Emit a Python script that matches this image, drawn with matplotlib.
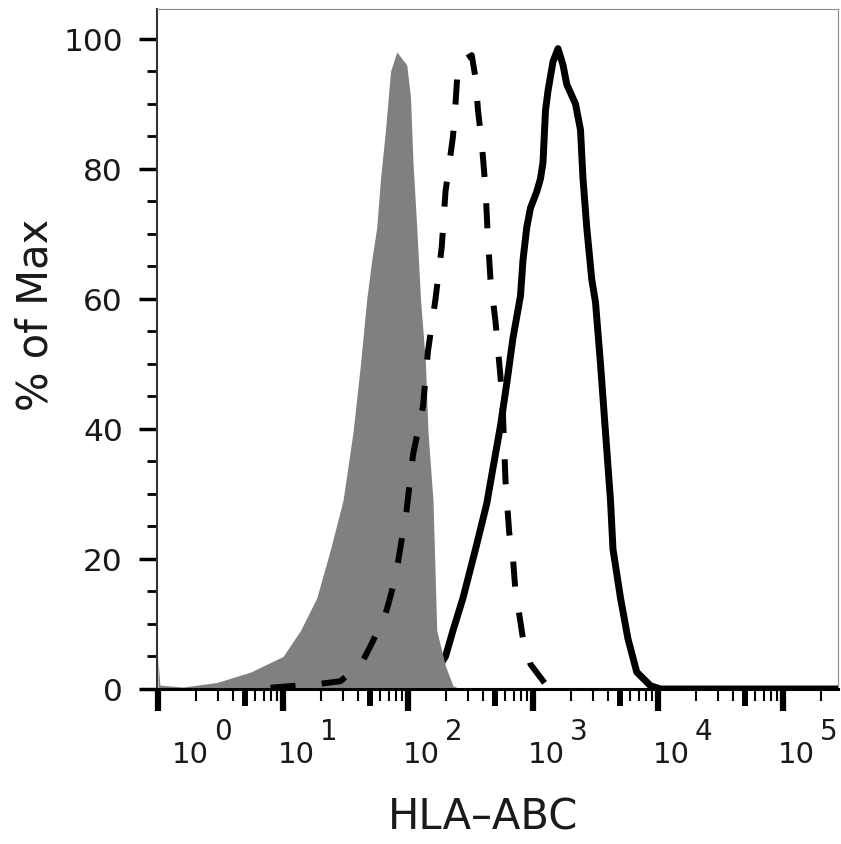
import matplotlib
matplotlib.use("Agg")
import numpy as np
import matplotlib.pyplot as plt
import matplotlib.transforms as mtransforms
from matplotlib.ticker import FixedLocator, NullFormatter, MultipleLocator

# isotype control (filled grey), x as log10(intensity), y as % of max
iso_log = [0.0, 0.015, 0.2, 0.47, 0.74, 1.0, 1.14, 1.27, 1.38, 1.48, 1.56, 1.62, 1.67,
           1.71, 1.75, 1.78, 1.82, 1.86, 1.91, 1.99, 2.02, 2.04, 2.07, 2.10, 2.14,
           2.16, 2.20, 2.23, 2.30, 2.36, 2.42]
iso_pct = [4.6, 0.6, 0.3, 1.0, 2.6, 5.0, 9.0, 14.0, 21.5, 29.0, 39.5, 50.0, 60.0,
           66.0, 71.0, 78.5, 86.0, 95.0, 98.0, 96.0, 91.0, 81.0, 71.0, 60.0, 50.0,
           39.5, 29.0, 9.0, 3.5, 0.5, 0.0]

# dashed histogram
dash_log = [0.9, 1.30, 1.46, 1.63, 1.71, 1.82, 1.87, 1.92, 1.95, 1.99, 2.04, 2.12,
            2.16, 2.22, 2.27, 2.30, 2.36, 2.38, 2.40, 2.47, 2.51, 2.54, 2.56, 2.59,
            2.62, 2.64, 2.66, 2.70, 2.74, 2.76, 2.78, 2.81, 2.84, 2.86, 2.89, 2.92,
            2.98, 3.11, 3.27]
dash_pct = [0.2, 0.8, 1.2, 4.0, 7.0, 11.5, 15.0, 19.5, 23.0, 27.7, 36.0, 43.5,
            52.0, 60.0, 68.0, 76.5, 85.0, 90.0, 96.0, 97.0, 97.5, 94.0, 89.0, 84.0,
            77.0, 69.0, 63.0, 56.5, 48.0, 42.0, 32.0, 24.0, 20.0, 15.0, 11.5, 7.7,
            3.8, 0.5, 0.0]

# HLA-ABC stained (solid black)
hla_log = [1.94, 2.18, 2.30, 2.36, 2.44, 2.54, 2.63, 2.68, 2.74, 2.79, 2.84, 2.90,
           2.92, 2.95, 2.98, 3.03, 3.06, 3.08, 3.10, 3.12, 3.16, 3.20, 3.24, 3.27,
           3.34, 3.38, 3.40, 3.43, 3.47, 3.50, 3.54, 3.58, 3.62, 3.64, 3.70, 3.76,
           3.83, 3.94, 4.02, 5.44]
hla_pct = [0.0, 1.5, 5.0, 9.0, 14.0, 21.5, 28.5, 34.0, 40.5, 47.0, 54.0, 60.5,
           66.0, 71.0, 74.0, 76.5, 78.5, 81.0, 89.0, 92.0, 96.5, 98.5, 96.0, 93.0,
           90.0, 86.0, 78.5, 71.0, 63.0, 59.5, 50.0, 39.5, 29.0, 21.5, 14.0, 7.7,
           2.6, 0.5, 0.0, 0.0]

decades = [0, 1, 2, 3, 4, 5]
y_ticks = [0, 20, 40, 60, 80, 100]

txt = '#1a1a1a'
plt.rcParams['font.family'] = 'DejaVu Sans'

fig = plt.figure(figsize=(8.41, 8.45), dpi=100)
ax = fig.add_axes([157/841, 155/845, 681/841, 680/845])

ax.plot(10**np.array(hla_log), hla_pct, color='black', lw=5, zorder=1,
        solid_joinstyle='round')
ax.fill_between(10**np.array(iso_log), iso_pct, 0, color='#808080', lw=0, zorder=2)
ax.plot(10**np.array(dash_log), dash_pct, color='black', lw=4.3, zorder=3,
        dashes=(4.2, 4.4))

ax.set_xscale('log')
ax.set_xlim(10**-0.008, 10**5.44)
ax.set_ylim(0, 104.6)

# y axis
ax.set_yticks(y_ticks)
ax.yaxis.set_minor_locator(MultipleLocator(5))
ax.tick_params(axis='y', which='major', length=13, width=2.5, pad=11.5,
               labelsize=22.5, labelcolor=txt, direction='out')
ax.tick_params(axis='y', which='minor', length=7, width=2, direction='out')

# x axis: decades long, fives medium, others short
ax.xaxis.set_major_locator(FixedLocator([10.0**d for d in decades]))
ax.xaxis.set_minor_locator(FixedLocator([m * 10.0**d for d in decades
                                         for m in (2, 3, 4, 6, 7, 8, 9)]))
ax.xaxis.set_major_formatter(NullFormatter())
ax.xaxis.set_minor_formatter(NullFormatter())
ax.tick_params(axis='x', which='major', length=15.8, width=4.5, direction='out')
ax.tick_params(axis='x', which='minor', length=8.6, width=1.5, direction='out')

sec = ax.secondary_xaxis('bottom')
sec.set_xticks([5 * 10.0**d for d in decades])
sec.xaxis.set_major_formatter(NullFormatter())
sec.xaxis.set_minor_locator(FixedLocator([]))
sec.tick_params(axis='x', which='major', length=12, width=4.3, direction='out')
sec.spines['bottom'].set_visible(False)

# decade labels, FlowJo style
for d in decades:
    dx = 14 if d == 0 else -5
    tr = mtransforms.offset_copy(ax.get_xaxis_transform(), fig=fig, x=dx, y=0, units='dots')
    ax.text(10.0**d, -0.107, '10', transform=tr, ha='left', va='baseline',
            fontsize=21, color=txt)
    tr2 = mtransforms.offset_copy(ax.get_xaxis_transform(), fig=fig, x=dx + 42, y=0,
                                  units='dots')
    ax.text(10.0**d, -0.073, str(d), transform=tr2, ha='left', va='baseline',
            fontsize=20, color=txt)

ax.spines['left'].set_color('#333333')
ax.spines['left'].set_linewidth(1.5)
ax.spines['bottom'].set_color('black')
ax.spines['bottom'].set_linewidth(2.2)
for s in ('top', 'right'):
    ax.spines[s].set_color('#8c8c8c')
    ax.spines[s].set_linewidth(0.8)

ax.set_xlabel('HLA\u2013ABC', fontsize=30, color=txt, va='center', ha='center')
ax.xaxis.set_label_coords(0.479, -0.187)
ax.set_ylabel('% of Max', fontsize=30, color=txt, va='center', ha='center')
ax.yaxis.set_label_coords(-0.179, 0.551)

fig.savefig('out.png', dpi=100)
